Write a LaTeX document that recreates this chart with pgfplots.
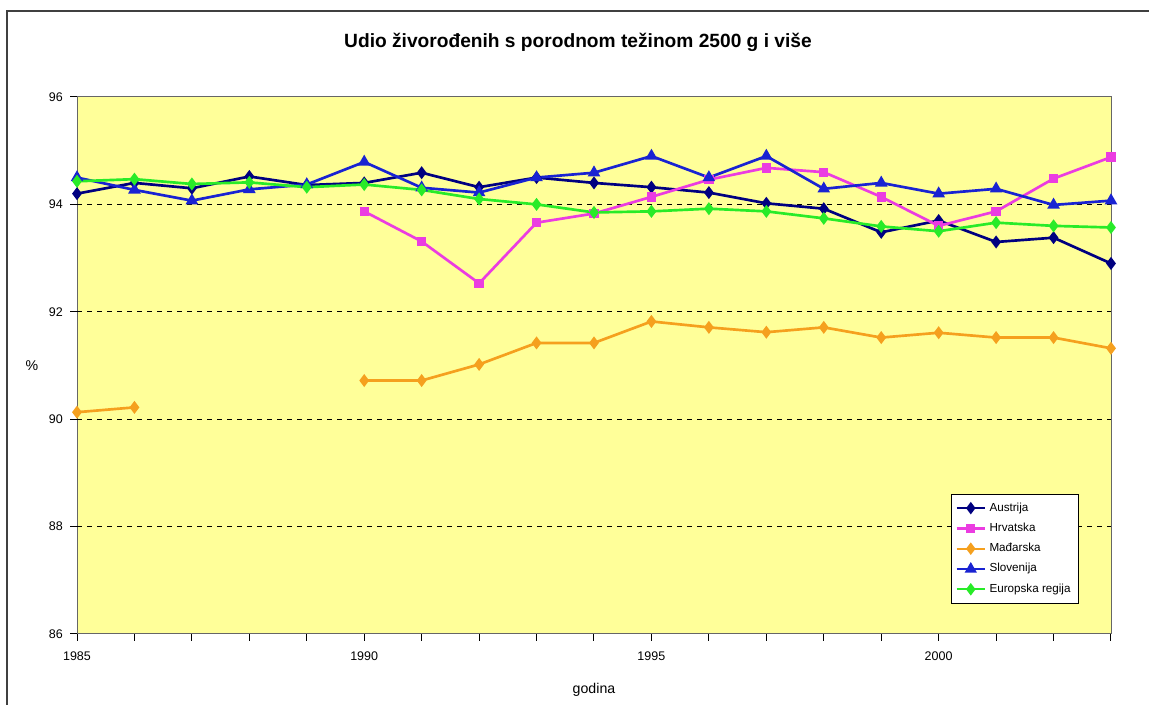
\documentclass[border=0pt]{standalone}
\usepackage{pgfplots}
\pgfplotsset{compat=1.18}
\usepackage{fontspec}
\setmainfont{Liberation Sans}
\definecolor{bgy}{RGB}{255,255,153}
\definecolor{cnavy}{RGB}{0,0,128}
\definecolor{cmag}{RGB}{235,60,225}
\definecolor{corg}{RGB}{245,160,30}
\definecolor{cblue}{RGB}{25,35,210}
\definecolor{cgreen}{RGB}{40,235,40}
\begin{document}
\begin{tikzpicture}[x=0.6pt,y=0.6pt]
\path[use as bounding box] (0,0) rectangle (1149,705);
\draw[line width=0.9pt,black!75] (7,-5) -- (7,694) -- (1160,694);
\begin{axis}[
  at={(46.2pt,42.6pt)}, anchor=south west,
  scale only axis, width=620.4pt, height=322.2pt,
  xmin=1985, xmax=2003, ymin=86, ymax=96,
  axis background/.style={fill=bgy},
  axis line style={draw=black!60, line width=0.6pt},
  xtick pos=bottom, ytick pos=left,
  xtick={1985,...,2003},
  xticklabels={1985,,,,,1990,,,,,1995,,,,,2000,,,},
  ytick={86,88,...,96},
  extra y ticks={88,90,92,94},
  extra y tick labels={},
  extra y tick style={grid=major, major grid style={black, dashed, line width=0.6pt}},
  tick align=outside, major tick length=4pt,
  tick style={black, line width=0.6pt},
  x tick label style={/pgf/number format/1000 sep={}, font=\fontsize{7.5}{8}\selectfont},
  y tick label style={font=\fontsize{7.5}{8}\selectfont},
  /pgf/number format/assume math mode=true,
  xticklabel style={yshift=-3pt},
  yticklabel style={xshift=-1pt},
  title={\textbf{Udio živorođenih s porodnom težinom 2500 g i više}},
  title style={at={(axis description cs:0.4845,1.084)}, anchor=center, font=\fontsize{11.5}{13}\selectfont},
  xlabel={godina},
  xlabel style={at={(axis description cs:0.5,-0.104)}, anchor=center, font=\fontsize{8.5}{9}\selectfont},
  ylabel={\%},
  ylabel style={at={(axis description cs:-0.0435,0.5)}, anchor=center, rotate=-90, font=\fontsize{8.5}{9}\selectfont},
  unbounded coords=jump,
  legend style={at={(0.845,0.261)}, anchor=north west, draw=black, line width=0.6pt, fill=white,
    font=\fontsize{7}{7.5}\selectfont, row sep=1.6pt, inner xsep=2.5pt, inner ysep=3pt, cells={anchor=west}},
  legend image post style={line width=1.4pt},
  every axis plot/.append style={line width=1.6pt},
]
\addplot[cnavy, mark=diamond*, mark size=2.6pt] coordinates {
(1985,94.2)(1986,94.4)(1987,94.3)(1988,94.52)(1989,94.36)(1990,94.4)(1991,94.59)(1992,94.32)(1993,94.5)(1994,94.4)
(1995,94.32)(1996,94.22)(1997,94.02)(1998,93.92)(1999,93.48)(2000,93.7)(2001,93.3)(2002,93.38)(2003,92.9)};
\addlegendentry{Austrija}
\addplot[cmag, mark=square*, mark size=2pt] coordinates {
(1990,93.87)(1991,93.31)(1992,92.53)(1993,93.66)(1994,93.83)(1995,94.14)(1996,94.46)(1997,94.68)(1998,94.6)
(1999,94.14)(2000,93.6)(2001,93.87)(2002,94.48)(2003,94.88)};
\addlegendentry{Hrvatska}
\addplot[corg, mark=diamond*, mark size=2.6pt] coordinates {
(1985,90.13)(1986,90.22)(1987,nan)(1988,nan)(1989,nan)(1990,90.72)(1991,90.72)(1992,91.02)(1993,91.42)(1994,91.42)
(1995,91.82)(1996,91.71)(1997,91.62)(1998,91.71)(1999,91.52)(2000,91.61)(2001,91.52)(2002,91.52)(2003,91.32)};
\addlegendentry{Mađarska}
\addplot[cblue, mark=triangle*, mark size=2.8pt] coordinates {
(1985,94.5)(1986,94.27)(1987,94.07)(1988,94.28)(1989,94.37)(1990,94.79)(1991,94.31)(1992,94.22)(1993,94.5)(1994,94.59)
(1995,94.9)(1996,94.5)(1997,94.9)(1998,94.29)(1999,94.4)(2000,94.2)(2001,94.29)(2002,93.99)(2003,94.07)};
\addlegendentry{Slovenija}
\addplot[cgreen, mark=diamond*, mark size=2.6pt] coordinates {
(1985,94.43)(1986,94.47)(1987,94.38)(1988,94.41)(1989,94.32)(1990,94.37)(1991,94.27)(1992,94.1)(1993,94.0)(1994,93.85)
(1995,93.87)(1996,93.92)(1997,93.87)(1998,93.74)(1999,93.59)(2000,93.5)(2001,93.66)(2002,93.6)(2003,93.57)};
\addlegendentry{Europska regija}
\end{axis}
\end{tikzpicture}
\end{document}
